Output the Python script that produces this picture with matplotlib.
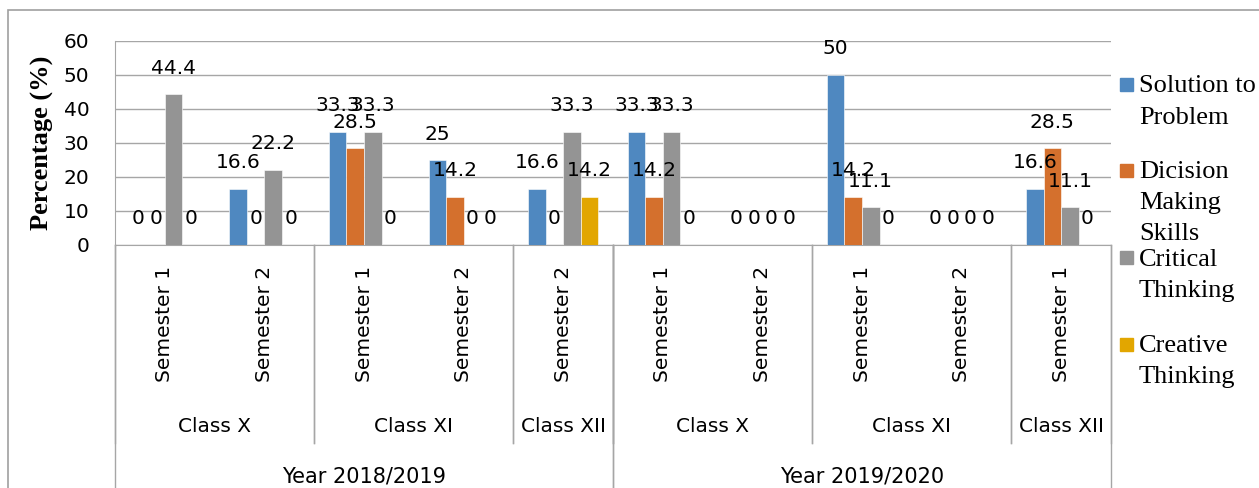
import matplotlib
matplotlib.use('Agg')
import matplotlib.pyplot as plt
from matplotlib.patches import Rectangle
from matplotlib.lines import Line2D
import numpy as np

# ---------------- data ----------------
series_names = ['Solution to\nProblem', 'Dicision\nMaking\nSkills',
                'Critical\nThinking', 'Creative\nThinking']
series_colors = ['#4F88C0', '#D4702D', '#949494', '#E2A600']

solution = [0, 16.6, 33.3, 25, 16.6, 33.3, 0, 50, 0, 16.6]
decision = [0, 0, 28.5, 14.2, 0, 14.2, 0, 14.2, 0, 28.5]
critical = [44.4, 22.2, 33.3, 0, 33.3, 33.3, 0, 11.1, 0, 11.1]
creative = [0, 0, 0, 0, 14.2, 0, 0, 0, 0, 0]

semesters = ['Semester 1', 'Semester 2', 'Semester 1', 'Semester 2', 'Semester 2',
             'Semester 1', 'Semester 2', 'Semester 1', 'Semester 2', 'Semester 1']
classes = ['Class X', 'Class X', 'Class XI', 'Class XI', 'Class XII',
           'Class X', 'Class X', 'Class XI', 'Class XI', 'Class XII']
years = ['Year 2018/2019'] * 5 + ['Year 2019/2020'] * 5

y_ticks = [0, 10, 20, 30, 40, 50, 60]
y_label = 'Percentage (%)'

# ---------------- figure ----------------
W, H = 1259, 488
fig = plt.figure(figsize=(W / 100, H / 100), dpi=100)

def fx(px):
    return px / W

def fy(py):
    return 1 - py / H

ax_left, ax_right, ax_top, ax_bottom = 115, 1111, 41, 245
ax = fig.add_axes([fx(ax_left), fy(ax_bottom), fx(ax_right - ax_left),
                   (ax_bottom - ax_top) / H])

grid_c = '#A6A6A6'
n = len(solution)
x = np.arange(n)
all_series = [solution, decision, critical, creative]
bw = 0.176
for i, (vals, col) in enumerate(zip(all_series, series_colors)):
    xs = x + (i - 1.5) * bw
    ax.bar(xs, vals, width=bw, color=col, edgecolor='white', linewidth=0.4, zorder=3)
    for xi, v in zip(xs, vals):
        ax.annotate(f'{v:g}', (xi, v), xytext=(0, 26), textcoords='offset pixels',
                    ha='center', va='center', fontsize=14.5, color='black', zorder=4)

ax.set_xlim(-0.5, n - 0.5)
ax.set_ylim(0, 60)
ax.set_yticks(y_ticks)
ax.set_yticklabels([str(t) for t in y_ticks], fontsize=14.5)
ax.tick_params(axis='y', length=0, pad=18.5)
ax.tick_params(axis='x', length=0, labelbottom=False)
ax.set_xticks([])
ax.yaxis.grid(True, color=grid_c, linewidth=1.0, zorder=0)
for s in ['top', 'right']:
    ax.spines[s].set_visible(False)
ax.spines['left'].set_color(grid_c)
ax.spines['bottom'].set_color(grid_c)
ax.spines['left'].set_zorder(5)

# y label
fig.text(fx(42), fy(143), y_label, rotation=90, ha='center', va='center',
         fontsize=19, fontweight='bold', family='Liberation Serif')

# ---------------- multi-level category axis ----------------
tr = ax.get_xaxis_transform()
axh = ax_bottom - ax_top

def ay(py):
    return (ax_bottom - py) / axh

# semester labels
for xi, s in zip(x, semesters):
    ax.text(xi, ay(266), s, rotation=90, ha='center', va='top', fontsize=14.5,
            transform=tr, clip_on=False)

# class groups
def spans(labels, keys):
    out = []
    start = 0
    for i in range(1, len(labels) + 1):
        if i == len(labels) or keys[i] != keys[start]:
            out.append((start, i - 1, labels[start]))
            start = i
    return out

class_keys = [y + c for y, c in zip(years, classes)]
for a, b, lab in spans(classes, class_keys):
    ax.text((a + b) / 2, ay(427), lab, ha='center', va='center', fontsize=14.5,
            transform=tr, clip_on=False)
    for edge in (a - 0.5, b + 0.5):
        ax.add_line(Line2D([edge, edge], [0, ay(443)], transform=tr, color=grid_c,
                           linewidth=1.0, clip_on=False))
for a, b, lab in spans(years, years):
    ax.text((a + b) / 2, ay(477), lab, ha='center', va='center', fontsize=15,
            transform=tr, clip_on=False)
    for edge in (a - 0.5, b + 0.5):
        ax.add_line(Line2D([edge, edge], [0, ay(495)], transform=tr, color=grid_c,
                           linewidth=1.0, clip_on=False))

# ---------------- legend ----------------
entry_y = [84, 170, 257, 344]
line_h = 31
for name, col, yc in zip(series_names, series_colors, entry_y):
    fig.patches.append(Rectangle((fx(1119.5), fy(yc + 6.5)), fx(13), 13 / H,
                                 transform=fig.transFigure, color=col))
    for k, line in enumerate(name.split('\n')):
        fig.text(fx(1139), fy(yc + k * line_h + 8.5), line, ha='left', va='baseline',
                 fontsize=19, family='Liberation Serif')

# outer chart border
fig.patches.append(Rectangle((fx(7.5), fy(600)), fx(1400), (600 - 10) / H,
                             transform=fig.transFigure, fill=False,
                             edgecolor='#A0A0A0', linewidth=1.2))

fig.savefig('out.png', dpi=100)
